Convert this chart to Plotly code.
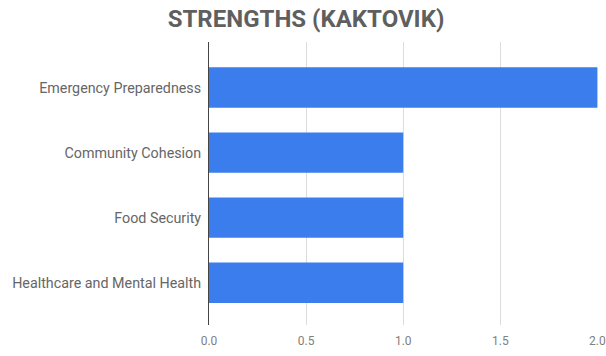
import plotly.graph_objects as go

# Strength counts per community domain
categories = [
    "Emergency Preparedness",
    "Community Cohesion",
    "Food Security",
    "Healthcare and Mental Health",
]
counts = [2, 1, 1, 1]
x_ticks = [0.0, 0.5, 1.0, 1.5, 2.0]

fig = go.Figure(
    go.Bar(
        x=counts,
        y=categories,
        orientation="h",
        width=0.62,
        marker=dict(color="#3b7ded", line=dict(width=0)),
        hoverinfo="x+y",
    )
)

fig.update_layout(
    width=606,
    height=356,
    margin=dict(l=209, r=8, t=42, b=31, autoexpand=False),
    paper_bgcolor="white",
    plot_bgcolor="white",
    showlegend=False,
    title=dict(
        text="<b>STRENGTHS (KAKTOVIK)</b>",
        x=0.505,
        xanchor="center",
        y=0.947,
        yanchor="middle",
        font=dict(family="Roboto", size=24, color="#5f5f5f"),
    ),
    font=dict(family="Roboto"),
)

fig.update_xaxes(
    range=[0, 2.003],
    tickvals=x_ticks,
    tickformat=".1f",
    automargin=False,
    showgrid=True,
    gridcolor="#dcdcdc",
    gridwidth=1,
    zeroline=False,
    showline=False,
    ticks="",
    ticklabelstandoff=7,
    tickfont=dict(family="Roboto", size=12, color="#808080"),
)

fig.update_yaxes(
    categoryorder="array",
    categoryarray=categories,
    range=[3.65, -0.70],
    automargin=False,
    showgrid=False,
    zeroline=False,
    showline=True,
    linecolor="#444444",
    linewidth=1,
    ticks="",
    ticklabelstandoff=4,
    tickfont=dict(family="Roboto", size=14.3, color="#666666"),
)

fig.write_html("out.html")
